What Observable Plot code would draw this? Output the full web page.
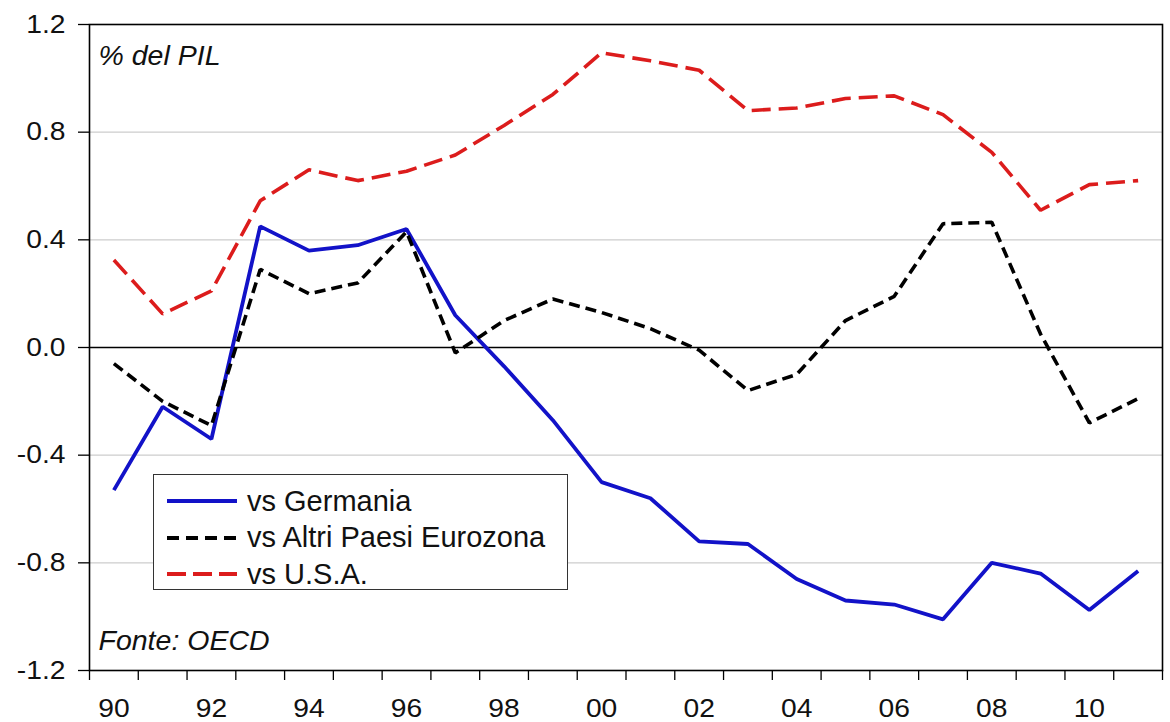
<!DOCTYPE html>
<html>
<head>
<meta charset="utf-8">
<script src="https://cdn.jsdelivr.net/npm/d3@7"></script>
<script src="https://cdn.jsdelivr.net/npm/@observablehq/plot@0.6"></script>
<style>
  html, body { margin: 0; padding: 0; background: #fff; }
  #wrap { position: relative; width: 1170px; height: 722px; font-family: "Liberation Sans", Arial, sans-serif; }
  #legend { position: absolute; left: 153px; top: 474px; width: 413px; height: 114px; background: #fff; border: 1.5px solid #333; box-sizing: content-box; }
  #legend .row { position: absolute; left: 0; height: 36px; display: flex; align-items: center; font-size: 29px; color: #111; white-space: nowrap; }
  #legend svg { margin-left: 13px; margin-right: 10px; }
</style>
</head>
<body>
<div id="wrap"></div>
<script>
const years = [1990,1991,1992,1993,1994,1995,1996,1997,1998,1999,2000,2001,2002,2003,2004,2005,2006,2007,2008,2009,2010,2011];
const germania = [-0.53,-0.22,-0.34,0.45,0.36,0.38,0.44,0.12,-0.07,-0.27,-0.50,-0.56,-0.72,-0.73,-0.86,-0.94,-0.955,-1.01,-0.80,-0.84,-0.975,-0.83];
const altriEurozona = [-0.06,-0.20,-0.29,0.29,0.20,0.24,0.43,-0.02,0.10,0.18,0.13,0.07,-0.01,-0.16,-0.10,0.10,0.19,0.46,0.465,0.05,-0.28,-0.19];
const usa = [0.325,0.125,0.21,0.545,0.66,0.62,0.655,0.715,0.825,0.94,1.095,1.065,1.03,0.88,0.89,0.925,0.935,0.865,0.725,0.51,0.605,0.62];
const yTicks = [-1.2,-0.8,-0.4,0.0,0.4,0.8,1.2];
const gridValues = [-0.8,-0.4,0.4,0.8];
const xLabelYears = [1990,1992,1994,1996,1998,2000,2002,2004,2006,2008,2010];
const seriesNames = ["vs Germania","vs Altri Paesi Eurozona","vs U.S.A."];
const seriesColors = ["#1212c8","#000000","#dc1c1c"];
const seriesDash = [null,"11,6","19,8"];
const unitLabel = "% del PIL";
const sourceLabel = "Fonte: OECD";

const seriesValues = [germania, altriEurozona, usa];
const rows = [];
seriesNames.forEach((name, i) => years.forEach((yr, j) => rows.push({year: yr, value: seriesValues[i][j], series: name})));
const boundaries = years.map(y => y - 0.5).concat([years[years.length - 1] + 0.5]);

const font = "'Liberation Sans', Arial, sans-serif";
const chart = Plot.plot({
  width: 1170,
  height: 722,
  marginLeft: 89,
  marginRight: 8,
  marginTop: 24,
  marginBottom: 52,
  style: {fontFamily: font, fontSize: "25px", color: "#111", background: "#fff", overflow: "visible"},
  x: {domain: [years[0] - 0.5, years[years.length - 1] + 0.5]},
  y: {domain: [yTicks[0], yTicks[yTicks.length - 1]]},
  marks: [
    Plot.ruleY(gridValues, {stroke: "#cdcdcd", strokeWidth: 1.2}),
    Plot.ruleY([0], {stroke: "#000", strokeWidth: 1.5}),
    ...seriesNames.map((name, i) => Plot.line(rows.filter(d => d.series === name), {
      x: "year", y: "value", stroke: seriesColors[i], strokeWidth: i === 0 ? 3.8 : 3.6,
      strokeDasharray: seriesDash[i] || undefined, strokeLinejoin: "miter", strokeLinecap: "butt"
    })),
    Plot.frame({stroke: "#000", strokeWidth: 1.6}),
    Plot.text([unitLabel], {frameAnchor: "top-left", dx: 9, dy: 31, fontStyle: "italic", fontSize: 28.5, fill: "#111", textAnchor: "start", lineAnchor: "middle"}),
    Plot.text([sourceLabel], {frameAnchor: "bottom-left", dx: 9, dy: -30, fontStyle: "italic", fontSize: 28.5, fill: "#111", textAnchor: "start", lineAnchor: "middle"}),
    Plot.axisY({ticks: yTicks, tickSize: 11, tickPadding: 13, tickFormat: d => d.toFixed(1), label: null, stroke: "#000", strokeWidth: 1.3}),
    Plot.axisX({ticks: boundaries, tickSize: 10, tickFormat: () => "", label: null, stroke: "#000", strokeWidth: 1.3}),
    Plot.axisX({ticks: xLabelYears, tickSize: 0, tickPadding: 29, tickFormat: d => String(d % 100).padStart(2, "0"), label: null})
  ]
});
const wrap = document.getElementById("wrap");
wrap.appendChild(chart);

// widen tick labels horizontally (reference glyphs are slightly stretched)
function stretch(selector, anchor, k) {
  chart.querySelectorAll(selector + " text").forEach(t => {
    const b = t.getBBox();
    if (!b.width) return;
    const ax = anchor === "end" ? b.x + b.width : b.x + b.width / 2;
    const prev = t.getAttribute("transform") || "";
    t.setAttribute("transform", `${prev} translate(${ax},0) scale(${k},1) translate(${-ax},0)`);
  });
}
stretch('g[aria-label="x-axis tick label"]', "middle", 1.13);
stretch('g[aria-label="y-axis tick label"]', "end", 1.13);

const legend = document.createElement("div");
legend.id = "legend";
seriesNames.forEach((name, i) => {
  const row = document.createElement("div");
  row.className = "row";
  row.style.top = (8 + i * 36.5) + "px";
  const ns = "http://www.w3.org/2000/svg";
  const svg = document.createElementNS(ns, "svg");
  svg.setAttribute("width", 70);
  svg.setAttribute("height", 10);
  const ln = document.createElementNS(ns, "line");
  ln.setAttribute("x1", 0); ln.setAttribute("x2", 70);
  ln.setAttribute("y1", 5); ln.setAttribute("y2", 5);
  ln.setAttribute("stroke", seriesColors[i]);
  ln.setAttribute("stroke-width", 3.8);
  if (seriesDash[i]) ln.setAttribute("stroke-dasharray", i === 1 ? "12,7" : "19,7");
  svg.appendChild(ln);
  row.appendChild(svg);
  const span = document.createElement("span");
  span.textContent = name;
  row.appendChild(span);
  legend.appendChild(row);
});
wrap.appendChild(legend);
</script>
</body>
</html>
